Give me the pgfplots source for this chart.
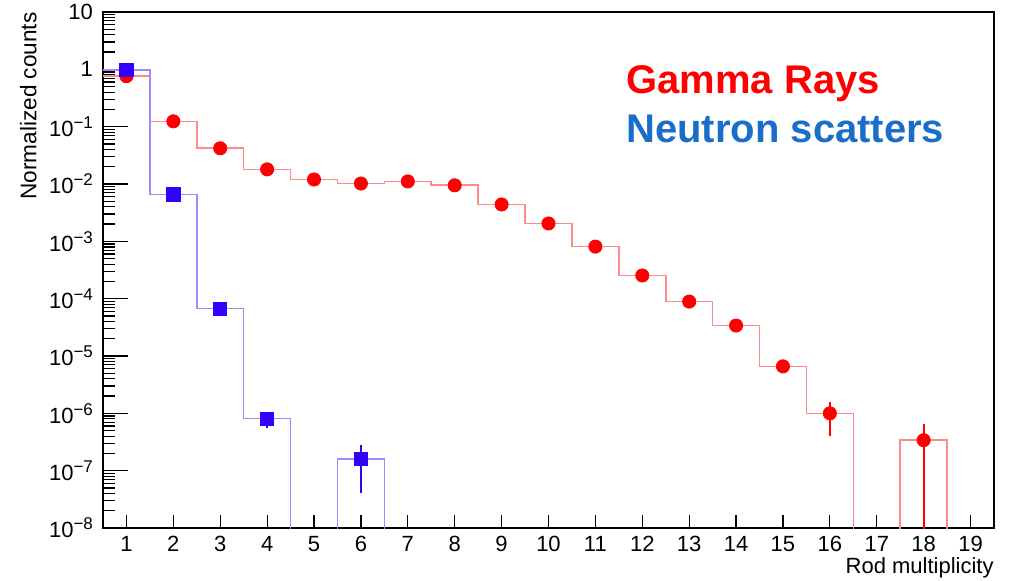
\documentclass[border=0pt]{standalone}
\usepackage{pgfplots}
\pgfplotsset{compat=1.18}
\usepackage{fontspec}
\setmainfont{Liberation Sans}
\definecolor{gline}{HTML}{FF8A8A}
\definecolor{gmark}{HTML}{FF0000}
\definecolor{nline}{HTML}{9C8CFF}
\definecolor{nmark}{HTML}{3300FF}
\definecolor{ntext}{HTML}{1A6EC8}
\newcommand{\tenp}[1]{10\raisebox{4pt}{\fontsize{8.5}{10}\selectfont #1}}
\begin{document}
\begin{tikzpicture}[x=1pt,y=1pt]
\useasboundingbox (-51.5,-26) rectangle (453,264);
\begin{axis}[
  at={(0,0)}, anchor=south west,
  scale only axis, width=445.5pt, height=258pt,
  ymode=log, xmin=0.5, xmax=19.5, ymin=1e-8, ymax=10,
  xtick={1,2,...,19},
  ytick={1e-8,1e-7,1e-6,1e-5,1e-4,1e-3,1e-2,1e-1,1,10},
  yticklabels={\tenp{−8},\tenp{−7},\tenp{−6},\tenp{−5},\tenp{−4},\tenp{−3},\tenp{−2},\tenp{−1},1,10},
  tick align=inside, tick pos=left,
  xtick style={black, line width=0.6pt, /pgfplots/major tick length=6.5pt},
  ytick style={black, line width=0.6pt, /pgfplots/major tick length=12.5pt, /pgfplots/minor tick length=6pt},
  minor x tick num=0,
  axis line style={black, line width=0.7pt},
  tick label style={font=\fontsize{11}{13}\selectfont},
  xticklabel style={yshift=-0.5pt},
  yticklabel style={xshift=-1.5pt},
  /pgf/number format/assume math mode=true,
  clip=true,
]
% Gamma rays histogram (step line)
\addplot[const plot mark left, color=gline, line width=0.8pt] coordinates {
(0.5,0.76) (1.5,0.124) (2.5,0.042) (3.5,0.018) (4.5,0.012) (5.5,0.0102)
(6.5,0.0111) (7.5,0.0095) (8.5,0.0044) (9.5,0.00205) (10.5,0.00081)
(11.5,0.000254) (12.5,8.9e-5) (13.5,3.4e-5) (14.5,6.6e-6) (15.5,1.0e-6)
(16.5,1e-10) (17.5,3.4e-7) (18.5,1e-10) (19.5,1e-10)
};
% Neutron histogram (step line)
\addplot[const plot mark left, color=nline, line width=0.8pt] coordinates {
(0.5,0.97) (1.5,0.0066) (2.5,6.7e-5) (3.5,8.1e-7) (4.5,1e-10)
(5.5,1.6e-7) (6.5,1e-10) (19.5,1e-10)
};
% Gamma markers
\addplot[only marks, mark=*, mark size=3.3pt, color=gmark,
  error bars/.cd, y dir=both, y explicit, error mark=none,
  error bar style={line width=1.1pt, color=gmark}] coordinates {
(1,0.76) (2,0.124) (3,0.042) (4,0.018) (5,0.012) (6,0.0102) (7,0.0111)
(8,0.0095) (9,0.0044) (10,0.00205) (11,0.00081) (12,0.000254) (13,8.9e-5)
(14,3.4e-5) (15,6.6e-6)
(16,1.0e-6) +- (0,0.6e-6)
};
\addplot[only marks, mark=*, mark size=3.3pt, color=gmark,
  error bars/.cd, y dir=plus, y explicit, error mark=none,
  error bar style={line width=1.1pt, color=gmark}] coordinates {
(18,3.4e-7) +- (0,3.2e-7)
};
\addplot[color=gmark, line width=1.1pt, forget plot] coordinates {(18,3.4e-7) (18,1e-9)};
% Neutron markers
\addplot[only marks, mark=square*, mark size=3.3pt, color=nmark,
  error bars/.cd, y dir=both, y explicit, error mark=none,
  error bar style={line width=1.1pt, color=nmark}] coordinates {
(1,0.97) (2,0.0066) (3,6.7e-5)
(4,8.1e-7) +- (0,2.5e-7)
(6,1.6e-7) +- (0,1.2e-7)
};
\end{axis}
\draw[black, line width=0.6pt] (0,258) -- (445.5,258) -- (445.5,0);
\node[rotate=90, anchor=south east, inner sep=0pt, font=\fontsize{11.3}{13}\selectfont] at (-33,258) {Normalized counts};
\node[anchor=north east, inner sep=0pt, font=\fontsize{11}{13}\selectfont] at (445.5,-14.5) {Rod multiplicity};
\node[anchor=base west, inner sep=0pt, text=gmark, font=\fontsize{20}{24}\bfseries] at (261.5,217.5) {Gamma Rays};
\node[anchor=base west, inner sep=0pt, text=ntext, font=\fontsize{20}{24}\bfseries] at (261.5,193) {Neutron scatters};
\end{tikzpicture}
\end{document}
